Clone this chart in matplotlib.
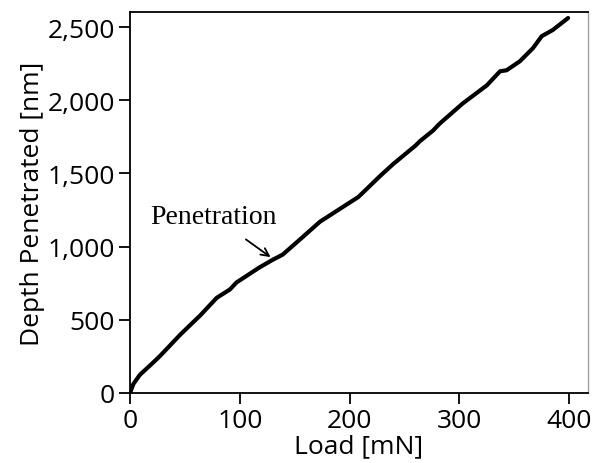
import matplotlib.pyplot as plt
from matplotlib.ticker import FuncFormatter

# Load vs. penetration depth readings
load_mn = [0, 3, 9, 20, 27, 46, 64, 79, 91, 97, 118, 130, 139, 155, 173, 191,
           208, 228, 240, 260, 264, 276, 282, 303, 325, 337, 343, 355, 367,
           375, 385, 399]
depth_nm = [0, 60, 124, 200, 250, 400, 530, 650, 707, 755, 858, 910, 945, 1050,
            1170, 1257, 1339, 1484, 1566, 1690, 1720, 1793, 1840, 1978, 2102,
            2198, 2205, 2266, 2356, 2438, 2480, 2562]

x_ticks = [0, 100, 200, 300, 400]
y_ticks = [0, 500, 1000, 1500, 2000, 2500]

plt.rcParams['font.family'] = ['Open Sans', 'DejaVu Sans']

fig = plt.figure(figsize=(5.92, 4.64), dpi=100)
ax = fig.add_axes([0.2196, 0.151, 0.7734, 0.820])

ax.plot(load_mn, depth_nm, color='black', linewidth=3.0, solid_capstyle='round')

ax.set_xlim(0, 417)
ax.set_ylim(0, 2600)
ax.set_xticks(x_ticks)
ax.set_yticks(y_ticks)
ax.yaxis.set_major_formatter(FuncFormatter(lambda v, p: f'{int(v):,}'))
ax.tick_params(labelsize=19, length=8, width=1.3, direction='out', pad=3)

ax.set_xlabel('Load [mN]', fontsize=19, labelpad=0)
ax.set_ylabel('Depth Penetrated [nm]', fontsize=19, labelpad=2)

for side in ['left', 'bottom', 'top']:
    ax.spines[side].set_linewidth(1.3)
ax.spines['right'].set_color('#a0a0a0')
ax.spines['right'].set_linewidth(1.0)

ax.annotate('Penetration', xy=(128, 928), xytext=(76, 1209),
            ha='center', va='center', fontsize=20, family='Liberation Serif',
            arrowprops=dict(arrowstyle='->', color='black', lw=1.3,
                            shrinkA=10, shrinkB=0, mutation_scale=14))

fig.savefig('out.png', dpi=100, facecolor='white')
